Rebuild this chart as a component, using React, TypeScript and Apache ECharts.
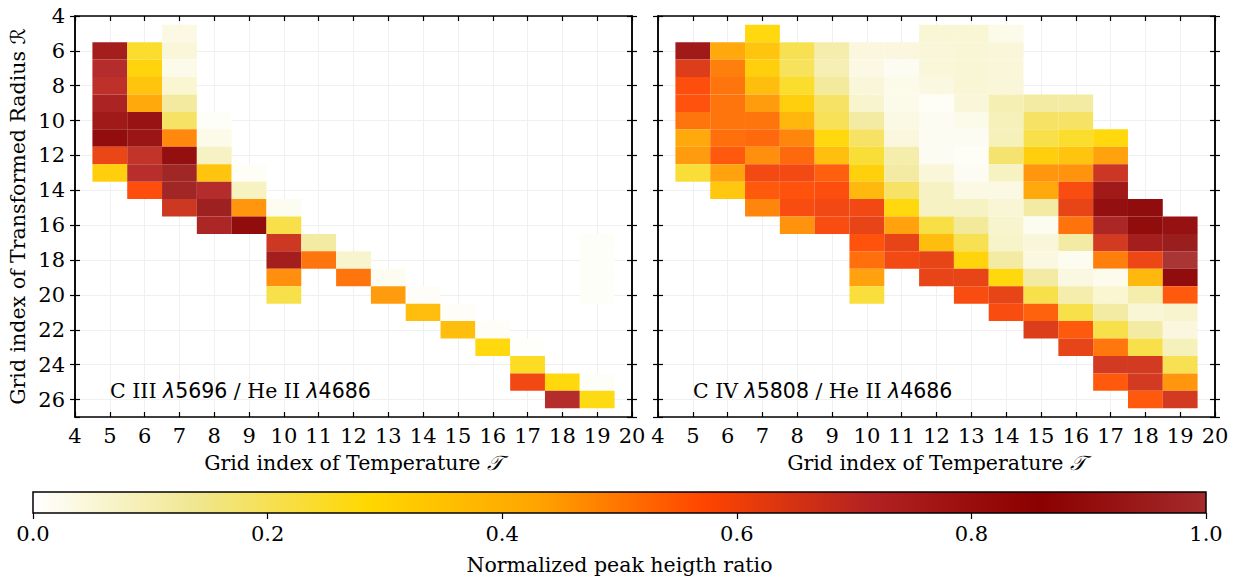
import React, { useEffect, useRef } from "react";
import * as echarts from "echarts";

// Temperature grid index of each column of cells
const xCells = [5, 6, 7, 8, 9, 10, 11, 12, 13, 14, 15, 16, 17, 18, 19];

// C III 5696 / He II 4686 : first radius index of each column, then values going down
const c3Start = [6, 6, 5, 10, 13, 15, 17, 18, 19, 20, 21, 22, 23, 25, 17];
const c3Values: (number | null)[][] = [
  [0.78, 0.72, 0.7, 0.76, 0.8, 0.86, 0.61, 0.32],
  [0.25, 0.3, 0.35, 0.43, 0.83, 0.82, 0.69, 0.71, 0.575],
  [0.035, 0.05, 0.03, 0.06, 0.125, 0.19, 0.48, 0.845, 0.95, 0.95, 0.67],
  [0.008, 0.03, 0.078, 0.35, 0.72, 0.93, 0.75],
  [0.012, 0.08, 0.46, 0.857],
  [0.02, 0.22, 0.67, 0.78, 0.47, 0.22],
  [0.12, 0.51],
  [0.065, 0.51],
  [0.02, 0.45],
  [0.01, 0.37],
  [0.01, 0.37],
  [0.01, 0.285],
  [0.006, 0.26, 0.6],
  [0.285, 0.72],
  [0.008, 0.008, 0.008, 0.008, null, null, null, null, 0.008, 0.28],
];

// C IV 5808 / He II 4686
const c4Start = [6, 6, 5, 6, 6, 6, 6, 5, 5, 5, 9, 9, 11, 15, 16];
const c4Values: (number | null)[][] = [
  [0.8, 0.64, 0.575, 0.566, 0.51, 0.43, 0.45, 0.24],
  [0.43, 0.495, 0.51, 0.51, 0.51, 0.52, 0.555, 0.44, 0.34],
  [0.29, 0.35, 0.32, 0.37, 0.45, 0.51, 0.53, 0.47, 0.595, 0.555, 0.485],
  [0.21, 0.2, 0.25, 0.32, 0.39, 0.485, 0.53, 0.595, 0.565, 0.585, 0.465],
  [0.11, 0.1, 0.127, 0.19, 0.205, 0.29, 0.36, 0.545, 0.575, 0.6, 0.585],
  [0.043, 0.035, 0.05, 0.065, 0.12, 0.19, 0.24, 0.31, 0.385, 0.6, 0.617, 0.566, 0.52, 0.44, 0.235],
  [0.043, 0.018, 0.03, 0.03, 0.035, 0.043, 0.11, 0.12, 0.19, 0.29, 0.44, 0.617, 0.595],
  [0.053, 0.05, 0.05, 0.04, 0.012, 0.018, 0.018, 0.018, 0.05, 0.078, 0.078, 0.225, 0.365, 0.617, 0.617],
  [0.053, 0.053, 0.053, 0.053, 0.05, 0.03, 0.018, 0.012, 0.018, 0.035, 0.078, 0.13, 0.21, 0.3, 0.617, 0.585],
  [0.03, 0.05, 0.05, 0.05, 0.1, 0.09, 0.09, 0.18, 0.08, 0.035, 0.053, 0.065, 0.07, 0.12, 0.285, 0.617, 0.585],
  [0.12, 0.19, 0.22, 0.32, 0.46, 0.43, 0.12, 0.02, 0.05, 0.04, 0.12, 0.22, 0.54, 0.64],
  [0.12, 0.19, 0.25, 0.35, 0.465, 0.585, 0.617, 0.513, 0.12, 0.02, 0.04, 0.108, 0.22, 0.555, 0.617],
  [0.285, 0.44, 0.673, 0.8, 0.845, 0.75, 0.658, 0.495, 0.025, 0.06, 0.12, 0.22, 0.507, 0.658, 0.555],
  [0.857, 0.857, 0.78, 0.606, 0.386, 0.108, 0.053, 0.12, 0.22, 0.658, 0.658, 0.555],
  [0.84, 0.92, 1.0, 0.857, 0.555, 0.065, 0.043, 0.09, 0.21, 0.46, 0.658],
];

const cmapColors = ["#ffffff", "#f0e68c", "#ffd700", "#ffa500", "#ff4500", "#b22222", "#8b0000", "#a52a2a"];
const xRange = [4, 20];
const yRange = [4, 27];
const colorbarRange = [0, 1];

const panelTitles = [
  "{s|C III }{l|λ}{d|5696}{s| / He II }{l|λ}{d|4686}",
  "{s|C IV }{l|λ}{d|5808}{s| / He II }{l|λ}{d|4686}",
];
const xName = "{s|Grid index of Temperature }{c|𝒯}";
const yName = "{s|Grid index of Transformed Radius }{c|ℛ}";
const cbName = "Normalized peak heigth ratio";

function buildCells(starts: number[], values: (number | null)[][]) {
  const out: number[][] = [];
  xCells.forEach((x, i) => {
    values[i].forEach((v, j) => {
      if (v !== null) out.push([x, starts[i] + j, v]);
    });
  });
  return out;
}

const SERIF = "DejaVu Serif";
const SANS = "DejaVu Sans";
const TICK_FS = 21;
const NAME_FS = 20.5;
const NOTE_FS = 20.5;

const richText = {
  s: { fontFamily: SERIF, fontSize: NOTE_FS, color: "#000" },
  l: { fontFamily: SANS, fontStyle: "italic", fontSize: NOTE_FS, color: "#000" },
  d: { fontFamily: SANS, fontSize: NOTE_FS, color: "#000" },
};
const richName = {
  s: { fontFamily: SERIF, fontSize: NAME_FS, color: "#000" },
  c: { fontFamily: SANS, fontStyle: "italic", fontSize: NAME_FS, color: "#000" },
};

export default function App() {
  const ref = useRef<HTMLDivElement>(null);

  useEffect(() => {
    if (!ref.current) return;
    const chart = echarts.init(ref.current, undefined, { renderer: "svg" });

    const lineStyle = { color: "#000", width: 1.5 };
    const renderCell = (params: any, api: any) => {
      const x = api.value(0);
      const y = api.value(1);
      const a = api.coord([x - 0.5, y - 0.5]);
      const b = api.coord([x + 0.5, y + 0.5]);
      return {
        type: "rect",
        shape: {
          x: Math.min(a[0], b[0]),
          y: Math.min(a[1], b[1]),
          width: Math.abs(b[0] - a[0]),
          height: Math.abs(b[1] - a[1]),
        },
        style: { fill: api.visual("color"), opacity: 0.95 },
      };
    };

    const grids = [
      { left: 75, top: 16, width: 557, height: 401 },
      { left: 658, top: 16, width: 557, height: 401 },
      { left: 33, top: 492, width: 1173, height: 21 },
    ];

    const tickLine = { color: "#000", width: 1.2 };
    const xAxes: any[] = [];
    const yAxes: any[] = [];
    [0, 1].forEach((g) => {
      xAxes.push({
        type: "value", gridIndex: g, min: xRange[0], max: xRange[1], interval: 1, position: "bottom",
        axisLine: { show: true, lineStyle },
        axisTick: { show: true, inside: true, length: 5, lineStyle: tickLine },
        axisLabel: { show: true, fontFamily: SERIF, fontSize: TICK_FS, color: "#000", margin: 8 },
        splitLine: { show: true, lineStyle: { color: "#f0f0f0", width: 1 } },
        name: xName, nameLocation: "middle", nameGap: 35,
        nameTextStyle: { rich: richName },
      });
      xAxes.push({
        type: "value", gridIndex: g, min: xRange[0], max: xRange[1], interval: 1, position: "top",
        axisLine: { show: true, lineStyle },
        axisTick: { show: true, inside: true, length: 5, lineStyle: tickLine },
        axisLabel: { show: false },
        splitLine: { show: false },
      });
      const yBase = {
        type: "value", gridIndex: g, min: yRange[0], max: yRange[1], interval: 2, inverse: true,
        axisLine: { show: true, lineStyle },
        splitLine: { show: false },
        axisLabel: { show: false },
      };
      yAxes.push({
        ...yBase, position: "left",
        axisTick: { show: true, inside: false, length: 5, lineStyle: tickLine },
        axisLabel: g === 0
          ? { show: true, fontFamily: SERIF, fontSize: TICK_FS, color: "#000", margin: 10, showMaxLabel: false }
          : { show: false },
        splitLine: { show: true, lineStyle: { color: "#f0f0f0", width: 1 } },
        name: g === 0 ? yName : "", nameLocation: "middle", nameGap: 47,
        nameTextStyle: { rich: richName },
      });
      yAxes.push({
        ...yBase, position: "left",
        axisTick: { show: true, inside: true, length: 5, lineStyle: tickLine },
      });
      yAxes.push({
        ...yBase, position: "right",
        axisTick: { show: true, inside: false, length: 5, lineStyle: tickLine },
      });
      yAxes.push({
        ...yBase, position: "right",
        axisTick: { show: true, inside: true, length: 5, lineStyle: tickLine },
      });
    });
    xAxes.push({
      type: "value", gridIndex: 2, min: colorbarRange[0], max: colorbarRange[1], interval: 0.2, position: "bottom",
      axisLine: { show: false },
      axisTick: { show: true, inside: false, length: 6, lineStyle: tickLine },
      axisLabel: { show: true, fontFamily: SERIF, fontSize: TICK_FS, color: "#000", margin: 10, formatter: (v: number) => v.toFixed(1) },
      splitLine: { show: false },
      name: cbName, nameLocation: "middle", nameGap: 41,
      nameTextStyle: { fontFamily: SERIF, fontSize: NAME_FS, color: "#000" },
    });
    yAxes.push({ type: "value", gridIndex: 2, min: 0, max: 1, show: false });

    const stops = cmapColors.map((c, i) => ({ offset: i / (cmapColors.length - 1), color: c }));

    chart.setOption({
      animation: false,
      backgroundColor: "#fff",
      grid: grids,
      xAxis: xAxes,
      yAxis: yAxes,
      visualMap: {
        type: "continuous", show: false, min: colorbarRange[0], max: colorbarRange[1],
        dimension: 2, seriesIndex: [0, 1], inRange: { color: cmapColors },
      },
      series: [
        {
          type: "custom", xAxisIndex: 0, yAxisIndex: 0, renderItem: renderCell,
          dimensions: ["x", "y", "v"], encode: { x: 0, y: 1 }, data: buildCells(c3Start, c3Values), z: 3,
        },
        {
          type: "custom", xAxisIndex: 2, yAxisIndex: 4, renderItem: renderCell,
          dimensions: ["x", "y", "v"], encode: { x: 0, y: 1 }, data: buildCells(c4Start, c4Values), z: 3,
        },
        { type: "line", xAxisIndex: 4, yAxisIndex: 8, data: [] },
      ],
      graphic: [
        {
          type: "rect", z: 10,
          shape: { x: 33, y: 492, width: 1173, height: 21 },
          style: {
            fill: new echarts.graphic.LinearGradient(0, 0, 1, 0, stops),
            stroke: "#000", lineWidth: 1.5,
          },
        },
        {
          type: "text", z: 10, x: 110, y: 391,
          style: { text: panelTitles[0], rich: richText, verticalAlign: "middle", align: "left" },
        },
        {
          type: "text", z: 10, x: 693, y: 391,
          style: { text: panelTitles[1], rich: richText, verticalAlign: "middle", align: "left" },
        },
      ],
    });

    return () => chart.dispose();
  }, []);

  return (
    <div
      ref={ref}
      style={{ position: "fixed", left: 0, top: 0, width: 1235, height: 580 }}
    />
  );
}
